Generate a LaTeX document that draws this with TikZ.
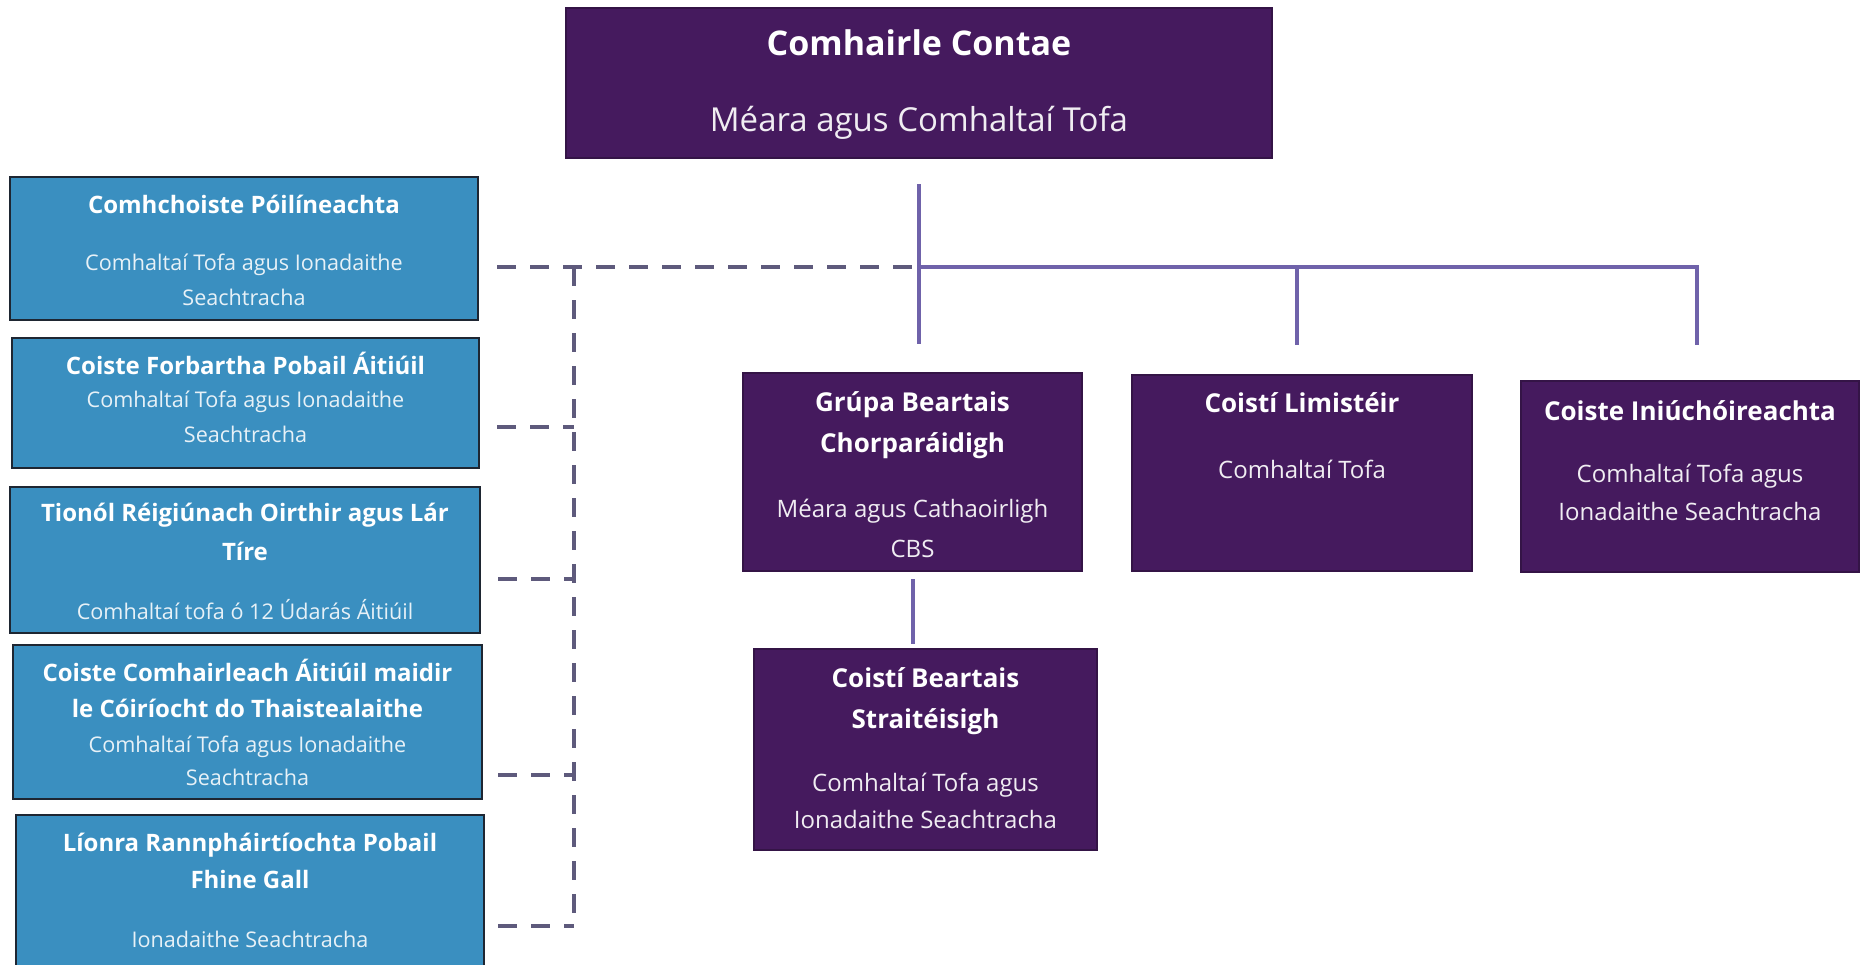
\documentclass[tikz,border=0pt]{standalone}
\usepackage{fontspec}
\setmainfont{Open Sans}
\usepackage{xcolor}
\usetikzlibrary{positioning}
\definecolor{corcra}{HTML}{451A5E}
\definecolor{gorm}{HTML}{3A8FC0}
\definecolor{imeall}{HTML}{1E2632}
\definecolor{liathchorcra}{HTML}{5E5A7C}
\definecolor{lilac}{HTML}{6F62AA}

\tikzset{
  pbox/.style={draw=corcra!75!black, line width=1pt, fill=corcra, inner sep=0pt},
  bbox/.style={draw=imeall, line width=1pt, fill=gorm, inner sep=0pt},
  ttl/.style={anchor=base, inner sep=0pt, text=white, font=\fontsize{#1}{#1}\selectfont\bfseries},
  txt/.style={anchor=base, inner sep=0pt, text=white!92!corcra, font=\fontsize{#1}{#1}\selectfont},
  ltxt/.style={anchor=base, inner sep=0pt, text=white!88!gorm, font=\fontsize{#1}{#1}\selectfont},
  link/.style={draw=lilac, line width=2pt},
  dlink/.style={draw=liathchorcra, line width=2pt, dash pattern=on 9.5pt off 7pt},
}

\begin{document}
\begin{tikzpicture}[x=0.5pt, y=-0.5pt]
        \fill[white] (0,0) rectangle (1861,964);
        \useasboundingbox (0,0) rectangle (1861,964);
        % Comhairle
        \node[pbox, minimum width=353pt, minimum height=75pt] (council) at (919,83) {};
        \node[ttl=17] (council-t) at (919,55) {Comhairle Contae};
        \node[txt=16.5] (council-s) at (919,131) {Méara agus Comhaltaí Tofa};
        % Coistí ar dheis
        \node[pbox, minimum width=169.5pt, minimum height=99pt] (cpg) at (912.5,472) {};
        \node[ttl=13] (cpg-t1) at (912.5,411) {Grúpa Beartais};
        \node[ttl=13] (cpg-t2) at (912.5,452) {Chorparáidigh};
        \node[txt=12] (cpg-s1) at (912.5,517) {Méara agus Cathaoirligh};
        \node[txt=12] (cpg-s2) at (912.5,557) {CBS};
        \node[pbox, minimum width=170pt, minimum height=98pt] (area) at (1302,473) {};
        \node[ttl=13] (area-t) at (1302,412) {Coistí Limistéir};
        \node[txt=12] (area-s) at (1302,478) {Comhaltaí Tofa};
        \node[pbox, minimum width=169pt, minimum height=95.5pt] (audit) at (1690,476.5) {};
        \node[ttl=13] (audit-t) at (1690,420) {Coiste Iniúchóireachta};
        \node[txt=12] (audit-s1) at (1690,482) {Comhaltaí Tofa agus};
        \node[txt=12] (audit-s2) at (1690,520) {Ionadaithe Seachtracha};
        \node[pbox, minimum width=171.5pt, minimum height=100.5pt] (spc) at (925.5,749.5) {};
        \node[ttl=13] (spc-t1) at (925.5,687) {Coistí Beartais};
        \node[ttl=13] (spc-t2) at (925.5,728) {Straitéisigh};
        \node[txt=12] (spc-s1) at (925.5,791) {Comhaltaí Tofa agus};
        \node[txt=12] (spc-s2) at (925.5,828) {Ionadaithe Seachtracha};
        % Coistí ar chlé
        \node[bbox, minimum width=234pt, minimum height=71.5pt] (jpc) at (244,248.5) {};
        \node[ttl=12] (jpc-t) at (244,213) {Comhchoiste Póilíneachta};
        \node[ltxt=10.8] (jpc-s1) at (244,270) {Comhaltaí Tofa agus Ionadaithe};
        \node[ltxt=10.8] (jpc-s2) at (244,305) {Seachtracha};
        \node[bbox, minimum width=233.5pt, minimum height=65pt] (lcdc) at (245.5,403) {};
        \node[ttl=12] (lcdc-t) at (245.5,374) {Coiste Forbartha Pobail Áitiúil};
        \node[ltxt=10.8] (lcdc-s1) at (245.5,407) {Comhaltaí Tofa agus Ionadaithe};
        \node[ltxt=10.8] (lcdc-s2) at (245.5,442) {Seachtracha};
        \node[bbox, minimum width=235pt, minimum height=73pt] (emra) at (245,560) {};
        \node[ttl=12] (emra-t1) at (245,521) {Tionól Réigiúnach Oirthir agus Lár};
        \node[ttl=12] (emra-t2) at (245,560) {Tíre};
        \node[ltxt=10.8] (emra-s) at (245,619) {Comhaltaí tofa ó 12 Údarás Áitiúil};
        \node[bbox, minimum width=234.5pt, minimum height=77pt] (ltacc) at (247.5,722) {};
        \node[ttl=12] (ltacc-t1) at (247.5,681) {Coiste Comhairleach Áitiúil maidir};
        \node[ttl=12] (ltacc-t2) at (247.5,717) {le Cóiríocht do Thaistealaithe};
        \node[ltxt=10.8] (ltacc-s1) at (247.5,752) {Comhaltaí Tofa agus Ionadaithe};
        \node[ltxt=10.8] (ltacc-s2) at (247.5,785) {Seachtracha};
        \node[bbox, minimum width=234pt, minimum height=80pt] (ppn) at (250,895) {};
        \node[ttl=12] (ppn-t1) at (250,851) {Líonra Rannpháirtíochta Pobail};
        \node[ttl=12] (ppn-t2) at (250,888) {Fhine Gall};
        \node[ltxt=10.8] (ppn-s) at (250,947) {Ionadaithe Seachtracha};
        % Línte
        \coordinate (c-top) at (919,184);
        \coordinate (hub) at (919,267);
        \coordinate (c-down) at (919,344);
        \coordinate (area-top) at (1297,345);
        \coordinate (audit-top) at (1697,345);
        \draw[link] (c-top) -- (c-down);
        \draw[link] (hub) -- (hub -| audit-top) -- (audit-top);
        \draw[link] (hub -| area-top) -- (area-top);
        \draw[link] ([yshift=-3.5pt]cpg.south) -- ([yshift=2pt]spc.north -| cpg.south);
        % Línte briste
        \coordinate (spine) at (574,267);
        \coordinate (spine-end) at (574,926);
        \draw[dlink] (497,267) -- (hub);
        \draw[dlink] (spine) -- (spine-end);
        \draw[dlink] ([xshift=8.5pt]lcdc.east |- 0,427) -- (spine |- 0,427);
        \draw[dlink] ([xshift=8.5pt]emra.east |- 0,579) -- (spine |- 0,579);
        \draw[dlink] ([xshift=7.5pt]ltacc.east |- 0,775) -- (spine |- 0,775);
        \draw[dlink] ([xshift=6.5pt]ppn.east |- 0,926) -- (spine-end);
    \end{tikzpicture}
\end{document}
